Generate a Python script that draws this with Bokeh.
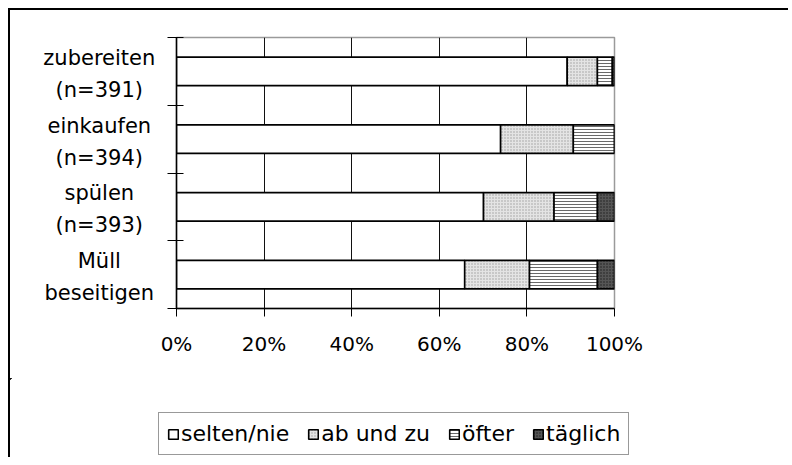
from bokeh.plotting import figure
from bokeh.models import ColumnDataSource, FixedTicker, NumeralTickFormatter, Legend, Range1d
from bokeh.layouts import row, column
from bokeh.core.properties import value
from bokeh.embed import file_html
from bokeh.resources import INLINE

# ---- data ----
categories = ["zubereiten\n(n=391)", "einkaufen\n(n=394)", "spülen\n(n=393)", "Müll\nbeseitigen"]
series = ["selten/nie", "ab und zu", "öfter", "täglich"]
selten_nie = [0.892, 0.740, 0.701, 0.658]
ab_und_zu = [0.069, 0.166, 0.161, 0.148]
oefter = [0.034, 0.094, 0.099, 0.155]
taeglich = [0.005, 0.000, 0.039, 0.039]
x_ticks = [0, 0.2, 0.4, 0.6, 0.8, 1.0]

n = len(categories)
ypos = [n - i - 0.5 for i in range(n)]
keys = ["s0", "s1", "s2", "s3"]
source = ColumnDataSource(dict(y=ypos, s0=selten_nie, s1=ab_und_zu, s2=oefter, s3=taeglich,
                               cat=categories))

# styles of the four series
fills = ["white", "#e4e4e4", "white", "#555555"]
hatches = [" ", "dot", "horizontal_line", "dot"]
hatch_colors = ["white", "#9c9c9c", "#444444", "#1e1e1e"]
hatch_weights = [0.5, 1.0, 0.8, 1.0]

def stack(fig, y_src, **kw):
    return fig.hbar_stack(keys, y="y", height=0.42, source=y_src,
                          fill_color=fills, hatch_pattern=hatches, hatch_color=hatch_colors,
                          hatch_weight=hatch_weights, hatch_scale=3,
                          line_color="black", line_width=1.6, **kw)

FONT = "DejaVu Sans"
H1 = 368
TOP, BOTTOM = 27, 70
LAB_W = 148
y_range = Range1d(0, n)

# ---- category label column ----
lab = figure(width=LAB_W, height=H1, output_backend="svg", toolbar_location=None,
             x_range=Range1d(0, 1), y_range=y_range,
             min_border_left=0, min_border_right=0, min_border_top=TOP, min_border_bottom=BOTTOM)
lab.axis.visible = False
lab.grid.visible = False
lab.outline_line_color = None
lab.background_fill_color = "white"
lab.border_fill_color = "white"
lab.text(x=0.6, y="y", text="cat", source=source, text_align="center", text_baseline="middle",
         y_offset=2.5, text_font=value(FONT), text_font_size="21px", text_line_height=1.33,
         text_color="black")

# ---- main chart ----
p = figure(width=630, height=H1, output_backend="svg", toolbar_location=None,
           x_range=Range1d(0, 1), y_range=y_range,
           min_border_left=18, min_border_right=174, min_border_top=TOP, min_border_bottom=BOTTOM)
p.background_fill_color = "white"
p.border_fill_color = "white"
p.outline_line_color = "#9a9a9a"
p.outline_line_width = 1.5

renderers = stack(p, source)

p.ygrid.visible = False
p.xgrid.ticker = FixedTicker(ticks=x_ticks[1:-1])
p.xgrid.grid_line_color = "#111111"
p.xgrid.grid_line_width = 1

xa = p.xaxis[0]
xa.ticker = FixedTicker(ticks=x_ticks)
xa.formatter = NumeralTickFormatter(format="0%")
xa.axis_line_color = "black"
xa.axis_line_width = 1.5
xa.major_tick_out = 8
xa.major_tick_in = 0
xa.minor_tick_line_color = None
xa.major_label_standoff = 15
xa.major_label_text_font = FONT
xa.major_label_text_font_size = "20px"
xa.major_label_text_color = "black"

ya = p.yaxis[0]
ya.ticker = FixedTicker(ticks=ypos, minor_ticks=list(range(n + 1)))
ya.major_label_overrides = {y: "" for y in ypos}
ya.major_label_standoff = 0
ya.major_tick_line_color = None
ya.major_tick_out = 9
ya.major_tick_in = 0
ya.minor_tick_out = 9
ya.minor_tick_in = 7
ya.minor_tick_line_color = "black"
ya.minor_tick_line_width = 1.2
ya.axis_line_color = "black"
ya.axis_line_width = 1.5

# ---- legend strip (its view shows none of the bars; only the swatches are seen) ----
H2 = 79
leg = figure(width=LAB_W + 630, height=H2, output_backend="svg", toolbar_location=None,
             x_range=Range1d(10, 11), y_range=Range1d(-100, -99),
             min_border_left=0, min_border_right=0, min_border_top=0, min_border_bottom=0)
leg.axis.visible = False
leg.grid.visible = False
leg.outline_line_color = None
leg.background_fill_color = "white"
leg.border_fill_color = "white"
swatches = stack(leg, source)

legend = Legend(items=[(s, [r]) for s, r in zip(series, swatches)],
                orientation="horizontal", location=(148, 2))
legend.margin = 0
legend.padding = 8
legend.spacing = 18
legend.label_standoff = 2
legend.glyph_width = 12
legend.glyph_height = 12
legend.label_text_font = FONT
legend.label_text_font_size = "22px"
legend.label_text_color = "black"
legend.label_height = 24
legend.border_line_color = "#333333"
legend.border_line_width = 1.2
legend.background_fill_alpha = 1
leg.add_layout(legend, "center")

layout = column(row(lab, p), leg,
                styles={"margin-left": "8px", "margin-top": "8px",
                        "border-top": "2px solid black", "border-left": "2px solid black"})

open("out.html", "w").write(file_html(layout, INLINE))
